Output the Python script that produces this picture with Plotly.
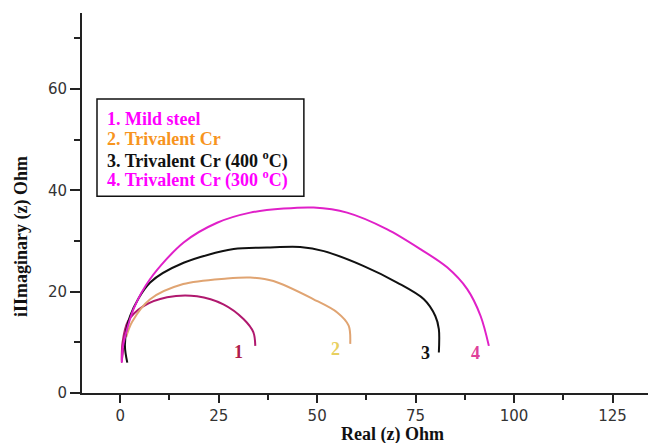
import plotly.graph_objects as go

# ---- data ----
c1_x = [0.8, 0.4, 0.6, 2.0, 5.8, 11.9, 19.5, 26.2, 31.3, 33.8, 34.3]
c1_y = [9.0, 6.1, 10.0, 14.2, 17.1, 18.9, 19.1, 17.5, 14.6, 12.0, 9.3]

c2_x = [1.5, 3.0, 7.6, 16.0, 27.1, 33.0, 38.9, 49.1, 55.1, 58.0, 58.4]
c2_y = [11.0, 14.0, 18.5, 21.5, 22.6, 22.8, 22.1, 18.5, 15.9, 13.3, 9.7]

c3_x = [1.8, 1.2, 2.5, 7.6, 16.1, 28.8, 37.3, 45.7, 51.7, 61.7, 70.3, 77.1, 80.0, 80.9, 80.9]
c3_y = [6.0, 9.5, 15.2, 21.8, 25.7, 28.4, 28.7, 28.8, 28.0, 25.1, 21.8, 18.5, 15.2, 12.6, 8.0]

c4_x = [0.4, 0.6, 1.3, 3.4, 7.6, 16.1, 24.6, 33.0, 41.5, 49.1, 57.6, 67.8, 76.2, 83.0, 88.1, 91.5, 93.6]
c4_y = [6.0, 8.7, 11.3, 16.6, 22.5, 29.7, 33.6, 35.6, 36.4, 36.6, 35.6, 32.3, 28.4, 24.8, 20.5, 15.2, 9.3]

series_colors = ["#b0186e", "#e0a472", "#111111", "#e020c8"]
curve_labels = ["1", "2", "3", "4"]
label_x = [30.0, 54.6, 77.5, 90.2]
label_y = [8.1, 8.7, 7.9, 7.9]
label_colors = ["#b01c4c", "#e8d060", "#111111", "#e0409a"]

legend_texts = ["1. Mild steel", "2. Trivalent Cr",
                "3. Trivalent Cr (400 <sup>o</sup>C)", "4. Trivalent Cr (300 <sup>o</sup>C)"]
legend_colors = ["#ff00ff", "#f7941d", "#111111", "#ff00ff"]

x_ticks = [0, 25, 50, 75, 100, 125]
y_ticks = [0, 20, 40, 60]

fig = go.Figure()
for xs, ys, col in zip([c1_x, c2_x, c3_x, c4_x], [c1_y, c2_y, c3_y, c4_y], series_colors):
    fig.add_trace(go.Scatter(x=xs, y=ys, mode="lines",
                             line=dict(color=col, width=2, shape="spline", smoothing=0.9),
                             showlegend=False, hoverinfo="skip"))

for t, lx, ly, lc in zip(curve_labels, label_x, label_y, label_colors):
    fig.add_annotation(x=lx, y=ly, text="<b>" + t + "</b>", showarrow=False,
                       font=dict(family="Liberation Serif", size=18, color=lc))

# legend box
fig.add_shape(type="rect", xref="paper", yref="paper", x0=0.0265, x1=0.392, y0=0.518, y1=0.774,
              line=dict(color="#111111", width=1.5), fillcolor="white")
leg_y = [0.721, 0.668, 0.613, 0.563]
for t, c, yy in zip(legend_texts, legend_colors, leg_y):
    fig.add_annotation(xref="paper", yref="paper", x=0.041, y=yy, xanchor="left", yanchor="middle",
                       text="<b>" + t + "</b>", showarrow=False,
                       font=dict(family="Liberation Serif", size=18, color=c))

# axis titles
fig.add_annotation(xref="paper", yref="paper", x=0.548, y=-0.108, text="<b>Real (z) Ohm</b>", showarrow=False,
                   xanchor="center", yanchor="middle", font=dict(family="Liberation Serif", size=18, color="#111"))
fig.add_annotation(xref="paper", yref="paper", x=-0.108, y=0.413, text="<b>iIImaginary (z) Ohm</b>",
                   showarrow=False, textangle=-90, xanchor="center", yanchor="middle",
                   font=dict(family="Liberation Serif", size=18, color="#111"))

axis_common = dict(showgrid=False, zeroline=False, showline=True, linecolor="#222", linewidth=2,
                   ticks="outside", tickcolor="#222", tickwidth=2,
                   tickfont=dict(family="DejaVu Sans", size=15, color="#333"))

fig.update_xaxes(range=[-9.7, 134.0], tickvals=x_ticks, ticktext=[str(v) for v in x_ticks], ticklen=8,
                 minor=dict(tickvals=[12.5, 37.5, 62.5, 87.5, 112.5], ticks="outside", ticklen=5,
                            tickcolor="#222", tickwidth=1.5),
                 **axis_common)
fig.update_yaxes(range=[0, 75], tickvals=y_ticks, ticktext=[str(v) for v in y_ticks], ticklen=10,
                 minor=dict(tickvals=[10, 30, 50, 70], ticks="outside", ticklen=6,
                            tickcolor="#222", tickwidth=1.5),
                 **axis_common)

fig.update_layout(width=648, height=443, margin=dict(l=82, r=0, t=13, b=50),
                  plot_bgcolor="white", paper_bgcolor="white", showlegend=False)

fig.write_html("out.html", config={"displayModeBar": False},
               post_script="document.body.style.margin='0';document.body.style.overflow='hidden';")
